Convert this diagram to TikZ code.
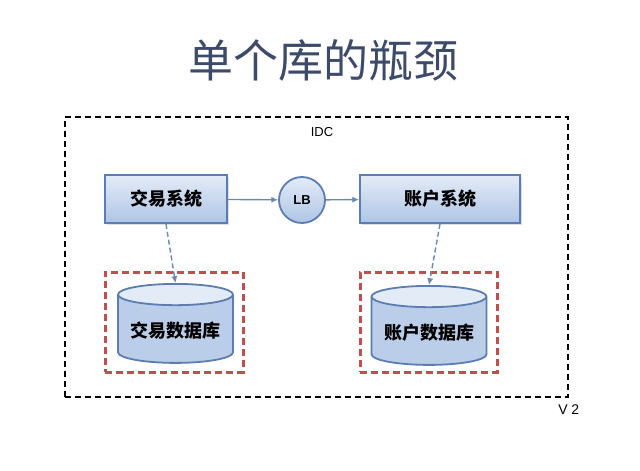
\documentclass[tikz,border=0pt]{standalone}
\usepackage{fontspec}
\setmainfont{Liberation Sans}
\newfontfamily\cjk{Noto Sans CJK SC}
\usepackage{tikz}
\usetikzlibrary{positioning,arrows.meta,shapes.geometric,shadows}
\definecolor{ttl}{HTML}{3D4B6B}
\definecolor{edge}{HTML}{5B7DB1}
\definecolor{topc}{HTML}{E3EBF7}
\definecolor{botc}{HTML}{AFC5E5}
\definecolor{lnk}{HTML}{6A88B2}
\definecolor{redd}{HTML}{C0504D}

\begin{document}
\begin{tikzpicture}[x=1pt,y=-1pt,
  sys/.style={draw=edge, line width=1.8pt, top color=topc, bottom color=botc, minimum height=48pt,
    font=\cjk\bfseries\fontsize{18}{20}\selectfont, drop shadow={opacity=0.25, shadow xshift=1.5pt, shadow yshift=-1.5pt}},
  db/.style={cylinder, shape border rotate=90, aspect=0.22, draw=edge, line width=1.8pt,
    cylinder uses custom fill, cylinder body fill=botc!85, cylinder end fill=topc,
    minimum width=115pt, minimum height=79pt, anchor=north, font=\cjk\bfseries\fontsize{18}{20}\selectfont},
  frame/.style={draw=redd, line width=3pt, dash pattern=on 7pt off 4pt, minimum width=#1, minimum height=100pt},
  arr/.style={draw=lnk, line width=1.4pt, -{Latex[length=2.4mm,width=2.2mm]}},
  dbarr/.style={arr, dash pattern=on 5pt off 3pt}]
\useasboundingbox[fill=white] (0,0) rectangle (640,471);
\node[font=\cjk\fontsize{45}{48}\selectfont, text=ttl] (title) at (323,60) {单个库的瓶颈};
\node[draw, line width=1.6pt, dash pattern=on 6pt off 4pt, minimum width=503pt, minimum height=280pt] (idcbox) at (316.5,257) {};
\node[font=\fontsize{13}{15}\selectfont] (idc) at (322,132) {IDC};
\node[font=\fontsize{14}{16}\selectfont, below left=3pt and -14pt of idcbox.south east] (ver) {V 2};
% systems
\node[sys, minimum width=122pt] (trade) at (166,199) {交易系统};
\node[circle, draw=edge, line width=1.8pt, top color=topc, bottom color=botc, minimum size=46pt,
  font=\bfseries\fontsize{13}{15}\selectfont] (lb) at (302,200) {LB};
\node[sys, minimum width=160pt] (acct) at (440,199) {账户系统};
% databases
\node[frame=138pt] (fr1) at (174,322) {};
\node[frame=137pt] (fr2) at (428.5,322) {};
\node[db] (tradedb) at (175.5,283) {交易数据库};
\node[db] (acctdb) at (429,285) {账户数据库};
\draw[arr] (trade) -- (lb);
\draw[arr] (lb) -- (acct);
\draw[dbarr] (trade.south) -- (tradedb.north);
\draw[dbarr] (acct.south) -- (acctdb.north);
\end{tikzpicture}
\end{document}
